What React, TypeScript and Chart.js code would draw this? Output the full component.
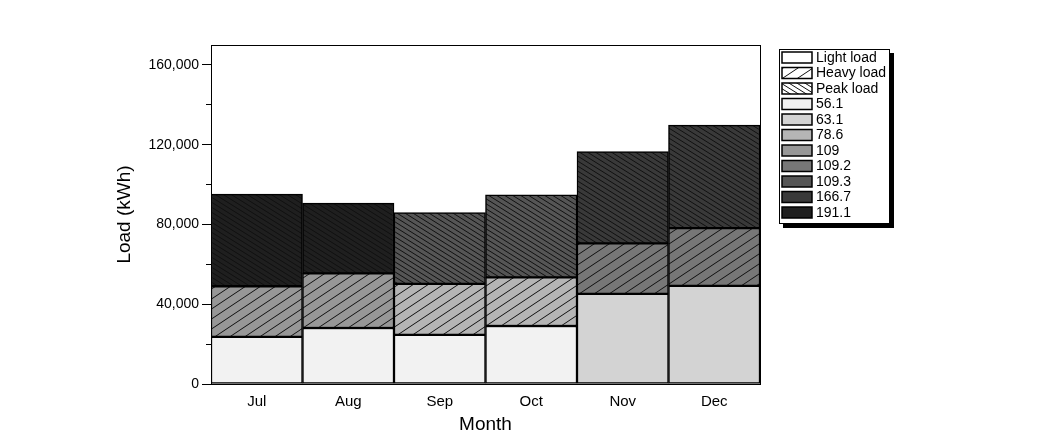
import React, { useEffect, useRef } from 'react';
import { Chart, registerables } from 'chart.js';

Chart.register(...registerables);

const months = ['Jul', 'Aug', 'Sep', 'Oct', 'Nov', 'Dec'];
const lightLoad = [23600, 28100, 24600, 29100, 45200, 49200];
const heavyLoad = [25400, 27400, 25600, 24400, 25300, 29000];
const peakLoad = [46200, 35200, 35800, 41400, 46100, 51600];
const lightPrice = ['56.1', '56.1', '56.1', '56.1', '63.1', '63.1'];
const heavyPrice = ['109', '109', '78.6', '78.6', '109.2', '109.2'];
const peakPrice = ['191.1', '191.1', '109.3', '109.3', '166.7', '166.7'];
const loadTypes = ['Light load', 'Heavy load', 'Peak load'];
const priceLabels = ['56.1', '63.1', '78.6', '109', '109.2', '109.3', '166.7', '191.1'];
const priceColors = ['#f2f2f2', '#d3d3d3', '#b5b5b5', '#979797', '#777777', '#555555', '#393939', '#1f1f1f'];
const majorTicks = [0, 40000, 80000, 120000, 160000];
const minorTicks = [0, 20000, 40000, 60000, 80000, 100000, 120000, 140000, 160000];

const FONT = '"Liberation Sans", Arial, sans-serif';
const Y_MAX = 170000;

type Kind = 'none' | 'fwd' | 'back';
const hatchKinds: Kind[] = ['none', 'fwd', 'back'];

function hatch(base: string, kind: Kind): CanvasPattern | string {
  if (kind === 'none') return base;
  const w = kind === 'fwd' ? 15 : 8;
  const h = kind === 'fwd' ? 10 : 5;
  const c = document.createElement('canvas');
  c.width = w;
  c.height = h;
  const x = c.getContext('2d')!;
  x.fillStyle = base;
  x.fillRect(0, 0, w, h);
  x.strokeStyle = '#111';
  x.lineWidth = 1;
  for (const dx of [-w, 0, w]) {
    x.beginPath();
    if (kind === 'fwd') {
      x.moveTo(dx - w, 2 * h);
      x.lineTo(dx + 2 * w, -h);
    } else {
      x.moveTo(dx - w, -h);
      x.lineTo(dx + 2 * w, 2 * h);
    }
    x.stroke();
  }
  return x.createPattern(c, 'repeat')!;
}

const colorOf = (p: string) => priceColors[priceLabels.indexOf(p)];

const framePlugin = {
  id: 'frame',
  afterDraw(chart: any) {
    const { ctx, chartArea } = chart;
    ctx.save();
    ctx.strokeStyle = '#000';
    ctx.lineWidth = 1;
    ctx.strokeRect(
      Math.round(chartArea.left) + 0.5,
      Math.round(chartArea.top) + 0.5,
      Math.round(chartArea.right - chartArea.left),
      Math.round(chartArea.bottom - chartArea.top)
    );
    ctx.restore();
  },
};

const legendPlugin = {
  id: 'boxLegend',
  afterDraw(chart: any) {
    const { ctx, chartArea } = chart;
    const items: { label: string; fill: CanvasPattern | string }[] = [];
    loadTypes.forEach((t, i) => items.push({ label: t, fill: hatch('#ffffff', hatchKinds[i]) }));
    priceLabels.forEach((p, i) => items.push({ label: p, fill: priceColors[i] }));
    const left = Math.round(chartArea.right) + 19;
    const top = 49;
    const rowH = 15.5;
    const firstY = 57.5;
    const width = 111;
    const height = Math.round(firstY - top + rowH * (items.length - 1) + 11);
    ctx.save();
    ctx.fillStyle = '#000';
    ctx.fillRect(left + 4, top + 4, width, height);
    ctx.fillStyle = '#fff';
    ctx.fillRect(left, top, width, height);
    ctx.strokeStyle = '#000';
    ctx.lineWidth = 1;
    ctx.strokeRect(left + 0.5, top + 0.5, width - 1, height - 1);
    ctx.font = `14px ${FONT}`;
    ctx.textBaseline = 'middle';
    ctx.textAlign = 'left';
    items.forEach((it, i) => {
      const cy = firstY + i * rowH;
      ctx.fillStyle = it.fill;
      ctx.fillRect(left + 3, cy - 5.5, 30, 11);
      ctx.lineWidth = 1.5;
      ctx.strokeStyle = '#000';
      ctx.strokeRect(left + 3, cy - 5.5, 30, 11);
      ctx.fillStyle = '#000';
      ctx.fillText(it.label, left + 37, cy + 0.5);
    });
    ctx.restore();
  },
};

export default function App() {
  const ref = useRef<HTMLCanvasElement>(null);

  useEffect(() => {
    document.body.style.margin = '0';
    const canvas = ref.current!;
    const makeSet = (label: string, data: number[], prices: string[], kind: Kind) => ({
      label,
      data,
      backgroundColor: prices.map((p) => hatch(colorOf(p), kind)),
      borderColor: '#000',
      borderWidth: 1.5,
      borderSkipped: false,
      stack: 's',
      categoryPercentage: 1,
      barPercentage: 1,
    });
    const chart = new Chart(canvas, {
      type: 'bar',
      data: {
        labels: months,
        datasets: [
          makeSet(loadTypes[0], lightLoad, lightPrice, 'none'),
          makeSet(loadTypes[1], heavyLoad, heavyPrice, 'fwd'),
          makeSet(loadTypes[2], peakLoad, peakPrice, 'back'),
        ] as any,
      },
      options: {
        responsive: false,
        animation: false,
        devicePixelRatio: 1,
        layout: { padding: { left: 110, right: 284, top: 45, bottom: 0 } },
        plugins: { legend: { display: false }, tooltip: { enabled: false } },
        scales: {
          x: {
            stacked: true,
            grid: { display: false },
            border: { display: true, color: '#000', width: 1 },
            ticks: { color: '#000', font: { size: 15, family: FONT }, padding: 1 },
            title: {
              display: true,
              text: 'Month',
              color: '#000',
              font: { size: 19, family: FONT },
              padding: { top: 0, bottom: 9 },
            },
            afterFit: (s: any) => {
              s.height = 61;
            },
          },
          y: {
            stacked: true,
            position: 'left',
            weight: 1,
            min: 0,
            max: Y_MAX,
            afterBuildTicks: (s: any) => {
              s.ticks = majorTicks.map((v) => ({ value: v }));
            },
            ticks: {
              color: '#000',
              font: { size: 14, family: FONT },
              padding: 3,
              callback: (v: any) => Number(v).toLocaleString('en-US'),
            },
            grid: { drawOnChartArea: false, tickLength: 4, tickColor: '#000', tickWidth: 1 },
            border: { display: false },
            title: {
              display: true,
              text: 'Load (kWh)',
              color: '#000',
              font: { size: 19, family: FONT },
              padding: { top: 3, bottom: 0 },
            },
            afterFit: (s: any) => {
              s.width = 96;
            },
          },
          y2: {
            position: 'left',
            weight: 0,
            min: 0,
            max: Y_MAX,
            afterBuildTicks: (s: any) => {
              s.ticks = minorTicks.map((v) => ({ value: v }));
            },
            ticks: { display: false },
            grid: { drawOnChartArea: false, tickLength: 5, tickColor: '#000', tickWidth: 1 },
            border: { display: true, color: '#000', width: 1 },
            afterFit: (s: any) => {
              s.width = 5;
            },
          },
        },
      } as any,
      plugins: [framePlugin, legendPlugin],
    });
    return () => chart.destroy();
  }, []);

  return (
    <div style={{ width: 1044, height: 445 }}>
      <canvas ref={ref} width={1044} height={445} style={{ display: 'block' }} />
    </div>
  );
}
